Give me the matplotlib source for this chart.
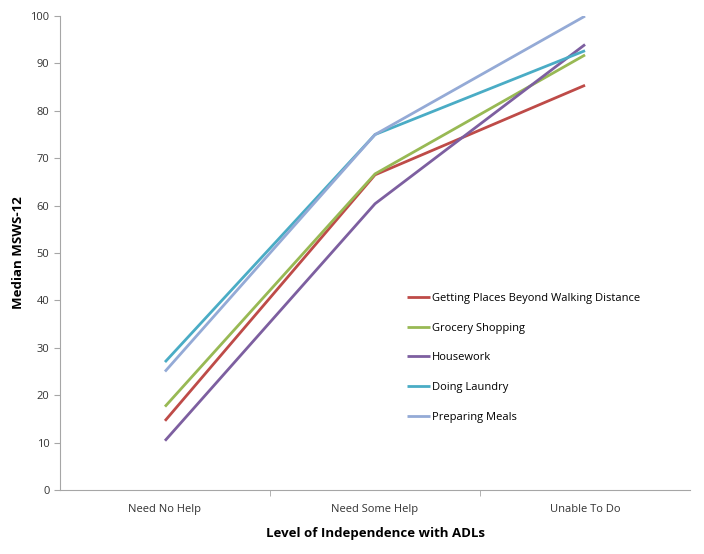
import matplotlib.pyplot as plt

# Categories and series values
categories = ['Need No Help', 'Need Some Help', 'Unable To Do']
getting_places = [14.6, 66.5, 85.4]
grocery = [17.6, 66.7, 91.8]
housework = [10.4, 60.4, 94.0]
laundry = [27.0, 75.0, 92.7]
meals = [25.0, 75.0, 100.0]

series = [
    ('Getting Places Beyond Walking Distance', getting_places, '#BE4B48'),
    ('Grocery Shopping', grocery, '#98B954'),
    ('Housework', housework, '#7D5FA0'),
    ('Doing Laundry', laundry, '#4AACC5'),
    ('Preparing Meals', meals, '#94AAD6'),
]

plt.rcParams['font.family'] = ['Open Sans', 'DejaVu Sans']

fig = plt.figure(figsize=(7.04, 5.54), dpi=100)
ax = fig.add_axes([0.0852, 0.1155, 0.895, 0.8555])

x = range(len(categories))
for label, vals, color in series:
    ax.plot(x, vals, color=color, linewidth=2.0, label=label, solid_capstyle='butt')

ax.set_xlim(-0.5, 2.5)
ax.set_ylim(0, 100)
ax.set_yticks(range(0, 101, 10))
ax.set_xticks(list(x))
ax.set_xticklabels(categories)
ax.set_xticks([0.5, 1.5], minor=True)

grey = '#A6A6A6'
for side in ['top', 'right']:
    ax.spines[side].set_visible(False)
for side in ['left', 'bottom']:
    ax.spines[side].set_color(grey)
ax.tick_params(axis='y', colors=grey, labelcolor='#333333', labelsize=8, length=4)
ax.tick_params(axis='x', which='major', length=0, labelsize=8, labelcolor='#333333', pad=10)
ax.tick_params(axis='x', which='minor', colors=grey, length=4)

ax.set_ylabel('Median MSWS-12', fontsize=9.5, fontweight='bold', labelpad=4)
ax.set_xlabel('Level of Independence with ADLs', fontsize=9.5, fontweight='bold', labelpad=9)

ax.legend(loc='center left', bbox_to_anchor=(0.535, 0.279), frameon=False,
          fontsize=8, handlelength=2.1, handletextpad=0.1, labelspacing=1.68)

fig.savefig('out.png', dpi=100)
